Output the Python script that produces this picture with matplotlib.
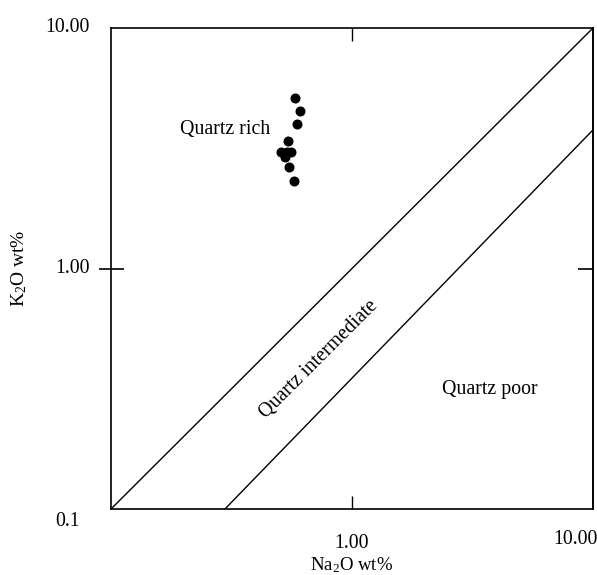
import matplotlib
matplotlib.use("Agg")
import matplotlib.pyplot as plt
import matplotlib.transforms as mtransforms

plt.rcParams['font.family'] = ['Liberation Serif', 'DejaVu Serif']
plt.rcParams['mathtext.fontset'] = 'custom'
plt.rcParams['mathtext.rm'] = 'Liberation Serif'
plt.rcParams['mathtext.default'] = 'regular'

# Data
na2o = [0.579, 0.608, 0.591, 0.542, 0.507, 0.535, 0.560, 0.527, 0.548, 0.574]
k2o = [5.12, 4.52, 3.99, 3.39, 3.05, 3.05, 3.05, 2.91, 2.64, 2.31]

# Field boundary lines
upper_x = [0.1, 10.0]
upper_y = [0.1, 10.0]
lower_x = [0.297, 10.0]
lower_y = [0.1, 3.77]

x_tick_vals = [1.0, 10.0]
x_tick_labels = ['1.00', '10.00']
y_tick_vals = [10.0, 1.0]
y_tick_labels = ['10.00', '1.00']
corner_label = '0.1'

field_labels = ['Quartz rich', 'Quartz intermediate', 'Quartz poor']
field_pos = [(0.297, 3.80), (0.73, 0.417), (3.74, 0.315)]
field_rot = [0, 45, 0]

fig = plt.figure(figsize=(5.97, 5.75), dpi=100)
ax = fig.add_axes([111/597, 66/575, 482/597, 481/575])
ax.set_xscale('log')
ax.set_yscale('log')
ax.set_xlim(0.1, 10)
ax.set_ylim(0.1, 10)

ax.plot(upper_x, upper_y, color='black', lw=1.0)
ax.plot(lower_x, lower_y, color='black', lw=1.0)
ax.plot(na2o, k2o, 'o', color='black', ms=6.2, mec='black')

for s in ax.spines.values():
    s.set_linewidth(1.2)

ax.minorticks_off()
ax.set_xticks([1.0])
ax.set_yticks([1.0])
ax.set_xticklabels([])
ax.set_yticklabels([])
ax.tick_params(axis='x', which='major', direction='in', length=9.5, width=1.0,
               top=True, bottom=True)
ax.tick_params(axis='y', which='major', direction='inout', length=18, width=1.2,
               left=True, right=False)
ax2 = ax.secondary_yaxis('right')
ax2.set_yticks([1.0])
ax2.set_yticklabels([])
ax2.minorticks_off()
ax2.tick_params(direction='in', length=11, width=1.2)
ax2.spines['right'].set_linewidth(1.2)

fs = 14.3
def off(dx, dy):
    return mtransforms.ScaledTranslation(dx/100, dy/100, fig.dpi_scale_trans)

ytrans = ax.get_yaxis_transform()
for v, lab in zip(y_tick_vals, y_tick_labels):
    ax.text(0, v, lab, transform=ytrans + off(-21, 0), ha='right', va='center', fontsize=fs)
ax.text(0, 0.1, corner_label, transform=ytrans + off(-31, -12), ha='right', va='center', fontsize=fs)

xtrans = ax.get_xaxis_transform()
x_offsets = [(0, -35), (-18, -30)]
for v, lab, (dx, dy) in zip(x_tick_vals, x_tick_labels, x_offsets):
    ax.text(v, 0, lab, transform=xtrans + off(dx, dy), ha='center', va='center', fontsize=fs)

for lab, (px, py), rot in zip(field_labels, field_pos, field_rot):
    ax.text(px, py, lab, ha='center', va='center', rotation=rot,
            rotation_mode='anchor', fontsize=fs)

fig.text(352/597, 1 - 565/575, 'Na$_2$O wt%', ha='center', va='center', fontsize=13.5)
fig.text(19/597, 1 - 268/575, 'K$_2$O wt%', ha='center', va='center', rotation=90, fontsize=14)

fig.savefig('out.png', dpi=100)
